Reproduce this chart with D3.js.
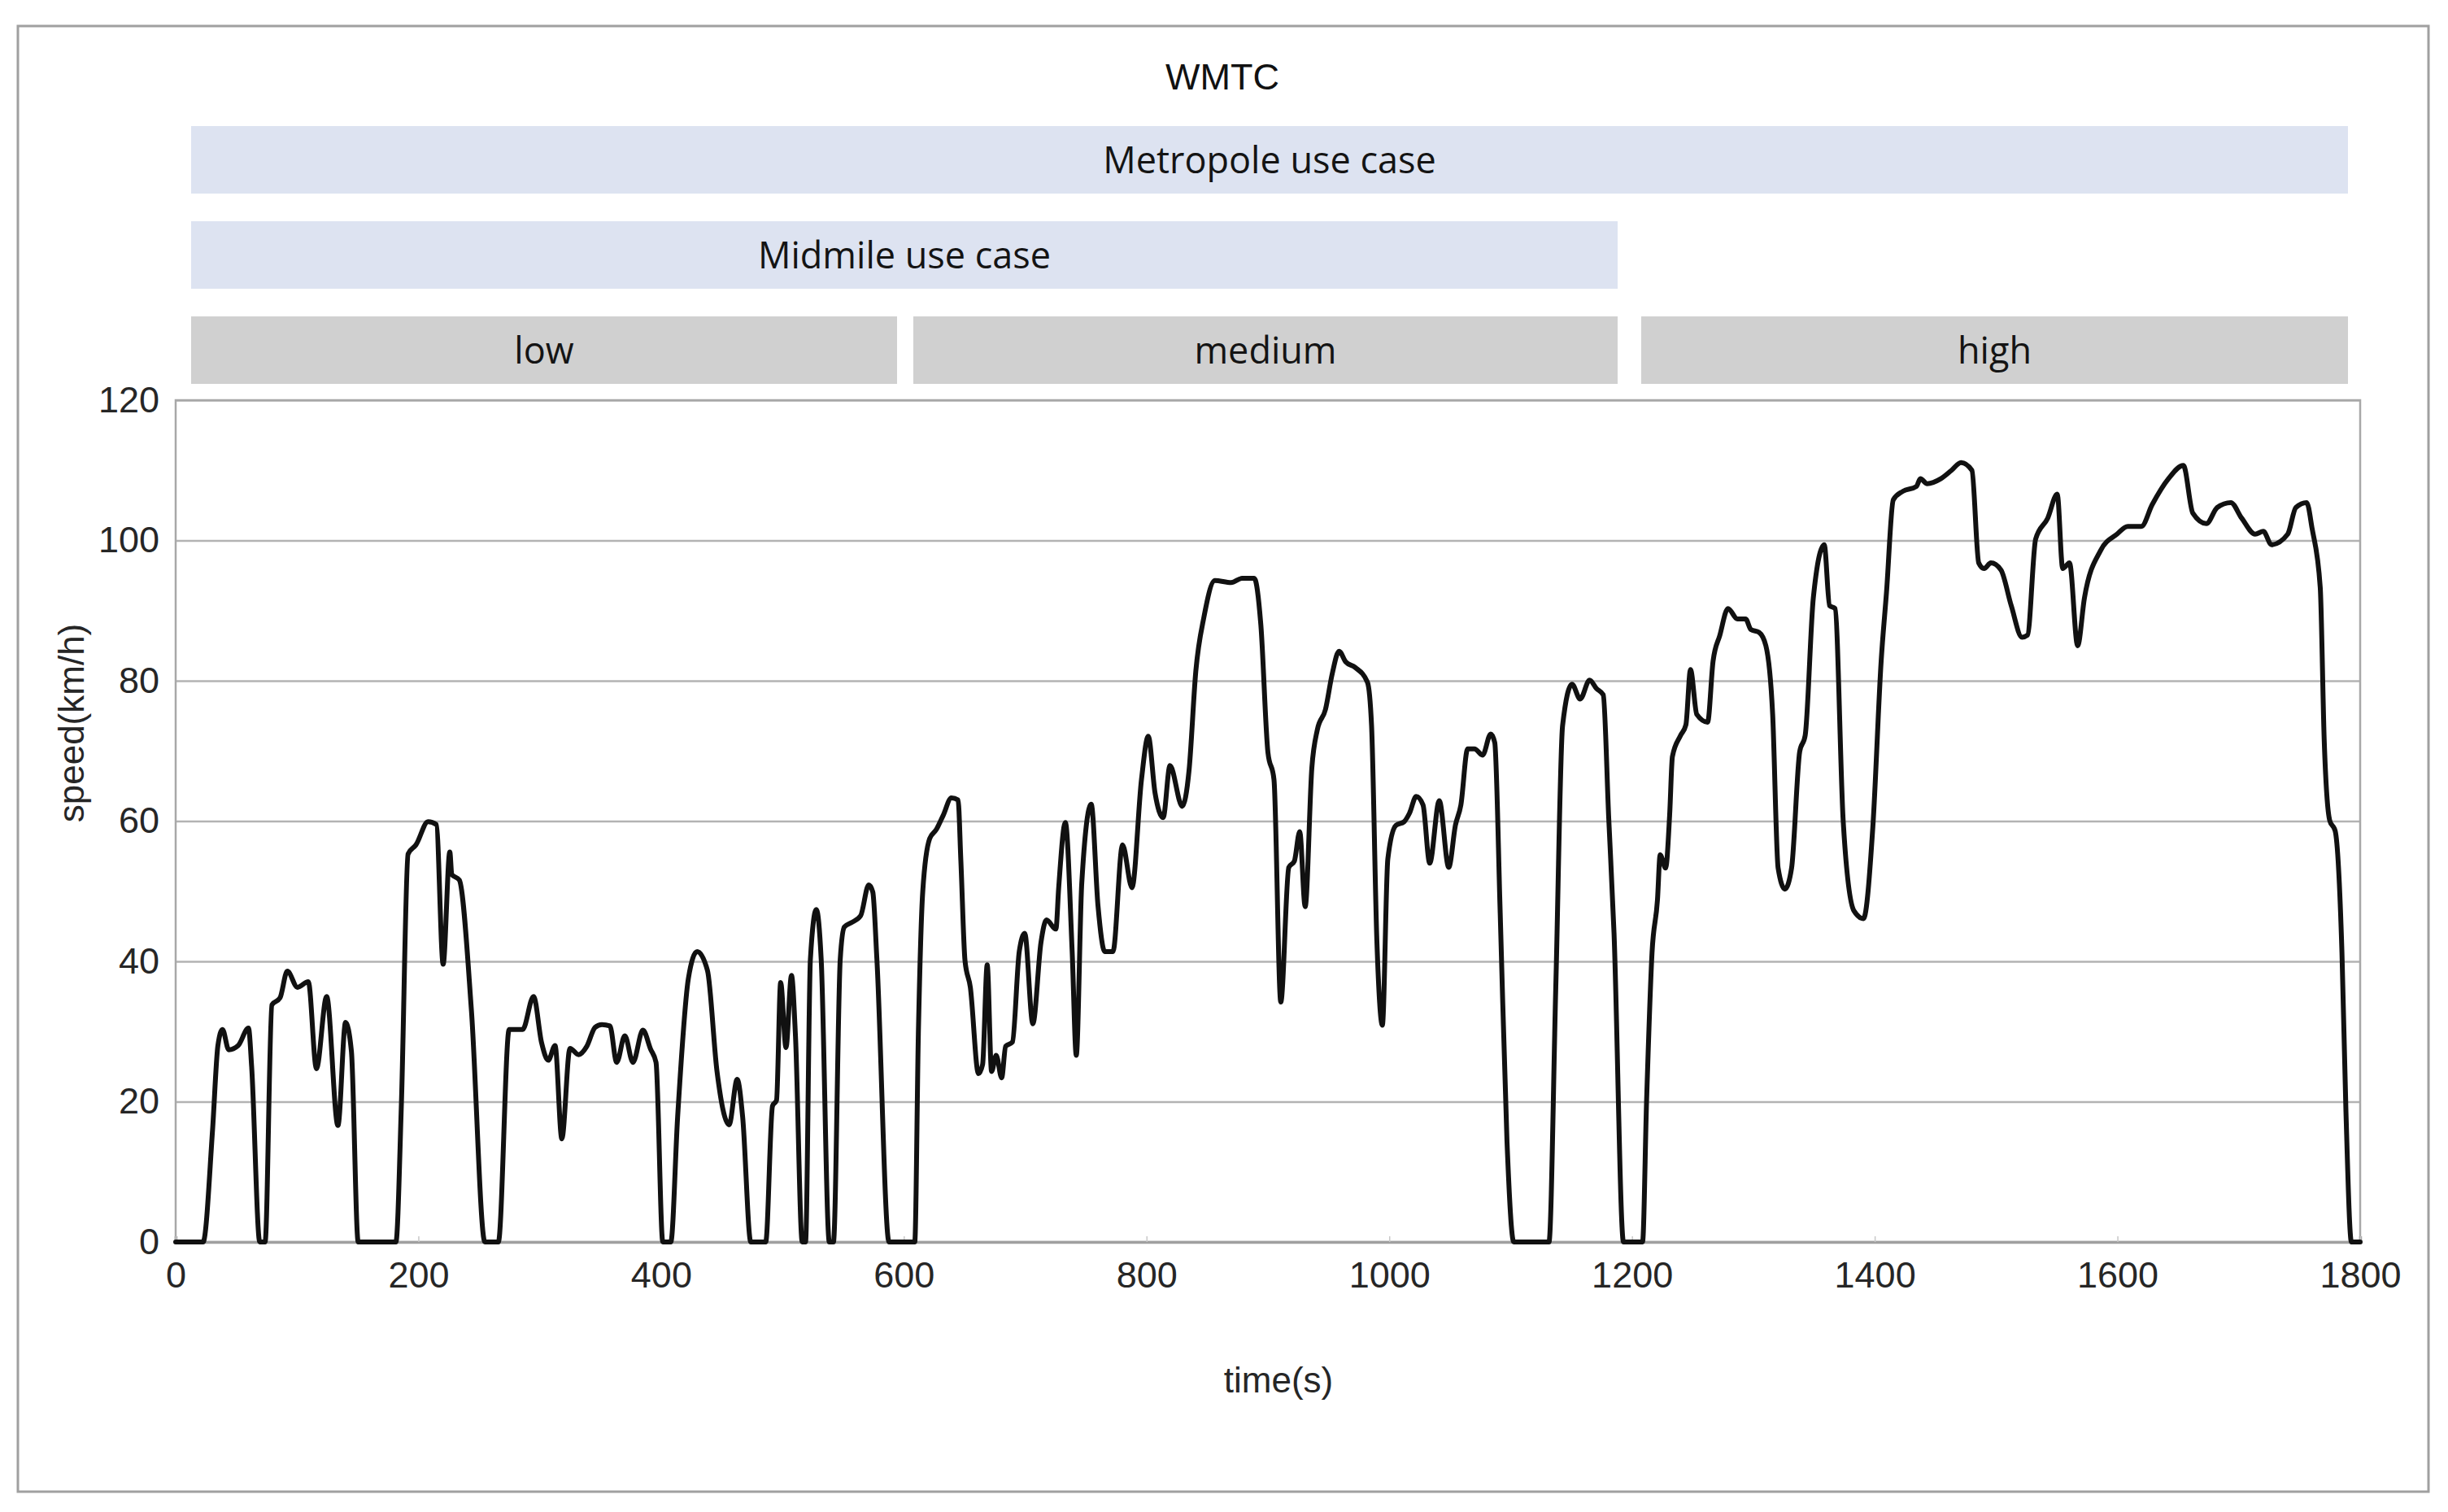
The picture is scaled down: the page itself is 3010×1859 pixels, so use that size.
<!DOCTYPE html>
<html>
<head>
<meta charset="utf-8">
<script src="https://cdn.jsdelivr.net/npm/d3@7"></script>
<style>
  html, body { margin: 0; padding: 0; background: #ffffff; }
  svg { display: block; }
</style>
</head>
<body>
<svg id="chart" width="3010" height="1859"></svg>
<script>
// ---------------- data ----------------
const title = "WMTC";
const xLabel = "time(s)";
const yLabel = "speed(km/h)";
const xTicks = [0, 200, 400, 600, 800, 1000, 1200, 1400, 1600, 1800];
const yTicks = [0, 20, 40, 60, 80, 100, 120];

const useCaseNames = ["Metropole use case", "Midmile use case"];
const useCaseSpans = [[0, 1800], [0, 1200]];
const phaseNames = ["low", "medium", "high"];
const phaseSpans = [[0, 600], [600, 1200], [1200, 1800]];

const time = [
  0, 22.6, 30.4, 34.8, 38.6, 43.7, 51.5, 60, 62.6, 69.3, 73.7, 79.3, 86, 92, 100.4, 109.3, 116, 124.4, 133.7, 140,
  144.8, 150.4, 181.5, 186, 191.5, 198, 208, 214.8, 220.4, 225.9, 227.5, 233.7, 243.7, 254.8, 265.9, 274.8, 285.9, 294.9, 301.5, 307,
  312.6, 318.2, 324.9, 332, 338.8, 345.6, 351.2, 357.8, 363.4, 370.1, 376.8, 385, 391.3, 395.8, 401.4, 408, 413.6, 422.5, 429.7, 438.2,
  446, 456, 462.7, 467.2, 473.9, 486.2, 491.8, 495.1, 498.5, 502.9, 507.4, 510.7, 516.3, 519, 523, 527.9, 531.9, 538.6, 542, 547.6,
  551, 556.6, 564.4, 571.1, 574.4, 577.8, 587.8, 609, 612, 615.6, 621.3, 626.8, 632.4, 639.2, 644.7, 647, 650.4, 654.8, 661.5, 664.9,
  668.7, 672.3, 676.1, 680.6, 683.9, 689.5, 695.1, 699.6, 706.3, 713, 717.5, 725.3, 727.6, 733.1, 738.7, 742.1, 746.6, 754.4, 760, 765.6,
  772.3, 780.2, 788, 795.8, 801.4, 807, 813.7, 819.3, 829.4, 835, 840.6, 847.3, 856.3, 869.7, 878.6, 888.7, 894.2, 900, 905, 910.6,
  917.2, 921.8, 926.2, 930.7, 936.2, 940.7, 947.4, 953, 958.6, 964.1, 971.9, 982, 985.4, 989.8, 994.3, 998.8, 1005.5, 1012.2, 1016.6, 1022.2,
  1027.8, 1033.3, 1041.2, 1049, 1054.5, 1059, 1064.6, 1070.2, 1076.9, 1083.6, 1086.9, 1091.4, 1097, 1102.6, 1131.6, 1137.2, 1142.8, 1150.6, 1157.3, 1165.1,
  1170.7, 1176.3, 1180.8, 1185.2, 1193, 1208.7, 1212, 1216.5, 1221, 1223.2, 1227.7, 1231, 1233.3, 1240, 1244.4, 1248.2, 1253.4, 1262.3, 1266.8, 1272.4,
  1279.1, 1286.9, 1293.6, 1298, 1304.7, 1310.3, 1315.9, 1320.4, 1326, 1331.5, 1338.2, 1342.7, 1349.4, 1358.4, 1362.8, 1367.3, 1374, 1382.9, 1390.7, 1398.5,
  1405.3, 1409.7, 1415.3, 1423.1, 1434.3, 1437.6, 1443.2, 1454.4, 1463.3, 1471.1, 1480.1, 1485.7, 1490.1, 1495.7, 1504, 1512.5, 1521.4, 1525.9, 1532.6, 1542.6,
  1550.4, 1554.9, 1560.5, 1567.2, 1572.8, 1586.2, 1599.6, 1608.5, 1619.7, 1628.6, 1642, 1654.3, 1662.1, 1673.3, 1682.2, 1693.4, 1702.3, 1713.5, 1720.2, 1726.9,
  1740.3, 1747, 1755.9, 1760.4, 1767.1, 1770.4, 1774.9, 1779.4, 1785, 1788.3, 1792.8, 1800
];
const speed = [
  0, 0, 16, 28, 30.3, 27.4, 28, 30.5, 25, 0, 0, 33.8, 34.8, 38.6, 36.3, 37.1, 24.7, 35, 16.6, 31.3,
  27.2, 0, 0, 19.7, 55.3, 56.6, 59.9, 59.5, 39.6, 55.6, 52.4, 51.6, 33, 0, 0, 30.3, 30.3, 35, 28.4, 25.9,
  28, 14.7, 27.6, 26.7, 27.9, 30.6, 31, 30.8, 25.6, 29.4, 25.6, 30.2, 27.5, 25.6, 0, 0, 17.8, 37.6, 41.4, 38.7,
  24.4, 16.7, 23.2, 17.8, 0, 0, 19.4, 20.2, 37, 27.7, 38, 29.4, 0, 0, 40.3, 47.4, 40.3, 0, 0, 40.3,
  44.9, 45.5, 46.5, 50.9, 49.9, 40.3, 0, 0, 30, 50, 57.5, 58.8, 60.8, 63.3, 63, 54.3, 40.1, 36.3, 24, 25.3,
  39.5, 24.3, 26.6, 23.4, 27.9, 28.5, 41.4, 44, 31.1, 42.7, 45.9, 44.6, 50.5, 59.8, 41.4, 26.6, 51.1, 62.4, 47.9, 41.4,
  41.4, 56.6, 50.5, 65.9, 72.1, 64, 60.5, 67.9, 62.1, 67.2, 81.4, 89.1, 94.3, 94, 94.6, 94.6, 87.9, 69.8, 65.9, 34.2,
  53.4, 54.3, 58.5, 47.8, 67.6, 73, 75.9, 81, 84.2, 82.7, 81.9, 79.8, 73.6, 42.8, 30.9, 54.6, 59.4, 59.9, 61.1, 63.5,
  62.3, 54, 62.9, 53.4, 59.4, 62.3, 70.3, 70.3, 69.4, 72.4, 71.2, 46.9, 14.3, 0, 0, 36.3, 73.6, 79.5, 77.4, 80.1,
  78.9, 78, 60.5, 44, 0, 0, 20, 41.2, 48.8, 55.2, 53.3, 60.8, 69.2, 72.2, 73.7, 81.6, 75.2, 74.1, 82.8, 86.5,
  90.3, 88.8, 88.8, 87.3, 86.9, 85, 75.2, 53.3, 50.3, 53.3, 69.9, 72.2, 91.8, 99.4, 90.7, 90.3, 60.1, 47.2, 46.1, 59.3,
  82.8, 92.6, 105.8, 107, 107.7, 108.8, 108.1, 108.8, 110, 111.1, 110, 96.8, 96, 96.8, 95.8, 90.7, 86.2, 86.5, 100.2, 103.2,
  106.6, 96, 96.8, 85, 91.8, 98.6, 100.9, 102, 102, 105.1, 108.8, 110.7, 103.9, 102.4, 104.7, 105.4, 103.2, 100.9, 101.3, 99.4,
  100.9, 104.7, 105.4, 101.7, 93.3, 71.4, 60.1, 58.6, 41.2, 18.5, 0, 0
];

// ---------------- layout ----------------
const W = 3010, H = 1859;
const plot = { left: 216, right: 2902, top: 492, bottom: 1527 };
const bandArea = { left: 235, right: 2887 };
const bandStartInset = { 600: 4, 1200: 15 };
const bandEndInset = { 600: 16, 1200: 14 };
const bandH = 83;
const useCaseTop = [155, 272];
const phaseTop = 389;
const tickFont = "'Liberation Sans', Arial, sans-serif";
const bandFont = "'Open Sans', 'Noto Sans', sans-serif";

const svg = d3.select("#chart");

// outer frame
svg.append("rect")
  .attr("x", 22).attr("y", 32).attr("width", 2964).attr("height", 1802)
  .attr("fill", "none").attr("stroke", "#a0a0a0").attr("stroke-width", 3);

// scales
const x = d3.scaleLinear().domain([0, 1800]).range([plot.left, plot.right]);
const y = d3.scaleLinear().domain([0, 120]).range([plot.bottom, plot.top]);
const bx = d3.scaleLinear().domain([0, 1800]).range([bandArea.left, bandArea.right]);

// title
svg.append("text")
  .attr("x", 1503).attr("y", 110)
  .attr("text-anchor", "middle")
  .attr("font-family", tickFont).attr("font-size", 45)
  .attr("fill", "#111")
  .text(title);

function bandStart(t) { return bx(t) + (bandStartInset[t] || 0); }
function bandEnd(t) { return bx(t) - (bandEndInset[t] || 0); }

function drawBand(name, span, top, fill) {
  const x0 = bandStart(span[0]), x1 = bandEnd(span[1]);
  svg.append("rect")
    .attr("x", x0).attr("y", top)
    .attr("width", x1 - x0).attr("height", bandH)
    .attr("fill", fill);
  svg.append("text")
    .attr("x", (x0 + x1) / 2).attr("y", top + bandH / 2)
    .attr("dy", "0.36em")
    .attr("text-anchor", "middle")
    .attr("font-family", bandFont).attr("font-size", 45)
    .attr("font-weight", 500)
    .attr("fill", "#141414")
    .text(name);
}
useCaseNames.forEach((n, i) => drawBand(n, useCaseSpans[i], useCaseTop[i], "#dde3f1"));
phaseNames.forEach((n, i) => drawBand(n, phaseSpans[i], phaseTop, "#d0d0d0"));

// y axis with grid lines
const yAxis = d3.axisLeft(y)
  .tickValues(yTicks)
  .tickSize(-(plot.right - plot.left))
  .tickPadding(20)
  .tickFormat(d3.format("d"));
const gy = svg.append("g").attr("transform", `translate(${plot.left},0)`).call(yAxis);
gy.select(".domain").remove();
gy.selectAll(".tick line").attr("stroke", "#b3b3b3").attr("stroke-width", 2.5);
gy.selectAll(".tick text")
  .attr("font-family", tickFont).attr("font-size", 45).attr("fill", "#262626");

// plot frame
svg.append("rect")
  .attr("x", plot.left).attr("y", plot.top)
  .attr("width", plot.right - plot.left).attr("height", plot.bottom - plot.top)
  .attr("fill", "none").attr("stroke", "#a8a8a8").attr("stroke-width", 2.5);

// x axis
const xAxis = d3.axisBottom(x)
  .tickValues(xTicks)
  .tickSize(-7)
  .tickPadding(24)
  .tickFormat(d3.format("d"));
const gx = svg.append("g").attr("transform", `translate(0,${plot.bottom})`).call(xAxis);
gx.select(".domain").attr("stroke", "#a0a0a0").attr("stroke-width", 3.5);
gx.selectAll(".tick line").attr("stroke", "#c8c8c8").attr("stroke-width", 1.5);
gx.selectAll(".tick text")
  .attr("font-family", tickFont).attr("font-size", 45).attr("fill", "#262626");

// speed trace
const pts = time.map((t, i) => [t, speed[i]]);
const line = d3.line()
  .x(d => x(d[0]))
  .y(d => y(d[1]))
  .curve(d3.curveMonotoneX);
svg.append("path")
  .datum(pts)
  .attr("d", line)
  .attr("fill", "none")
  .attr("stroke", "#111")
  .attr("stroke-width", 6)
  .attr("stroke-linejoin", "round")
  .attr("stroke-linecap", "round");

// axis titles
svg.append("text")
  .attr("x", 1572).attr("y", 1712)
  .attr("text-anchor", "middle")
  .attr("font-family", tickFont).attr("font-size", 44)
  .attr("fill", "#262626")
  .text(xLabel);
svg.append("text")
  .attr("transform", "translate(103,889) rotate(-90)")
  .attr("text-anchor", "middle")
  .attr("font-family", tickFont).attr("font-size", 44)
  .attr("fill", "#262626")
  .text(yLabel);
</script>
</body>
</html>
